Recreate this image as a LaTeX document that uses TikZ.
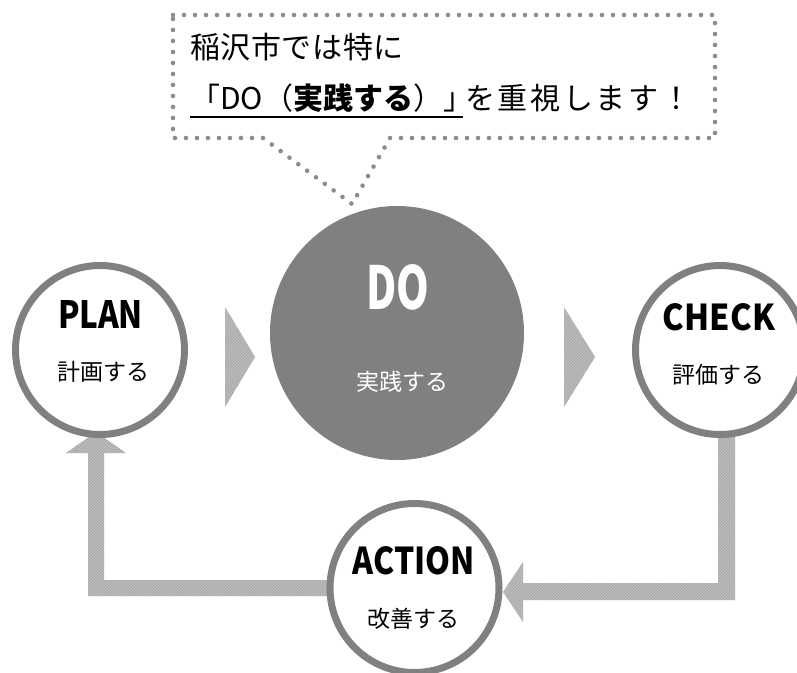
\documentclass[tikz,border=0pt]{standalone}
\usepackage{fontspec}
\usepackage{graphicx}
\setmainfont{Noto Sans CJK JP}
\usetikzlibrary{patterns}
\tikzset{
  ring/.style={circle, draw=black!50, line width=7pt, fill=white, minimum size=169pt, inner sep=0pt},
  hatch/.style={fill=black!33, postaction={pattern=north east lines, pattern color=black!22}},
  dotline/.style={draw=black!45, line width=4.6pt, line cap=round, dash pattern=on 0pt off 11pt},
  sublabel/.style={font=\fontsize{23}{27}\selectfont, inner sep=0pt},
  biglabel/.style={inner sep=0pt},
  calltext/.style={font=\fontsize{30}{34}\selectfont, inner sep=0pt, anchor=west},
}
\begin{document}
\begin{tikzpicture}[x=1pt,y=-1pt]
\useasboundingbox (0,0) rectangle (797,672);

% forward arrows
\coordinate (t1) at (225,357);
\coordinate (t2) at (564,357);
\fill[hatch] (t1) ++(0,-50) -- ++(30,50) -- ++(-30,50) -- cycle;
\fill[hatch] (t2) ++(0,-50) -- ++(31,50) -- ++(-31,50) -- cycle;

% loop CHECK -> ACTION
\fill[hatch] (718,425) -- (735,425) -- (735,600) -- (523,600) -- (523,622) -- (503,592) -- (523,562) -- (523,583) -- (718,583) -- cycle;
% loop ACTION -> PLAN
\fill[hatch] (340,580) -- (340,596) -- (88,596) -- (88,453) -- (66,453) -- (96,432) -- (126,453) -- (104,453) -- (104,580) -- cycle;

% circles
\node[ring] (plan) at (100,350) {};
\node[ring] (check) at (720,350) {};
\node[ring] (action) at (414.5,588) {};
\node[circle, fill=black!50, minimum size=254pt, inner sep=0pt] (do) at (397,333) {};

% labels
\node[biglabel] (planL) at (100.5,314) {\resizebox{85pt}{28pt}{\bfseries PLAN}};
\node[sublabel] (planS) at (103,372) {計画する};
\node[biglabel, text=white] (doL) at (398,287) {\resizebox{63pt}{45pt}{\bfseries DO}};
\node[sublabel, text=white] (doS) at (402,382) {実践する};
\node[biglabel] (checkL) at (719,317) {\resizebox{112pt}{27pt}{\bfseries CHECK}};
\node[sublabel] (checkS) at (718,375) {評価する};
\node[biglabel] (actionL) at (414,561) {\resizebox{122pt}{28pt}{\bfseries ACTION}};
\node[sublabel] (actionS) at (413,619) {改善する};

% callout
\path[dotline] (173,15) -- (715,15) -- (715,138) -- (390,138) -- (352,204) -- (263,138) -- (173,138) -- cycle;
\node[calltext] (c1) at (190,47) {\addfontfeatures{LetterSpace=2}稲沢市では特に};
\node[calltext] (c2) at (190,98) {「DO（{\bfseries 実践する}）」};
\node[calltext] (c3) at (465,98) {\addfontfeatures{LetterSpace=9}を重視します！};
\draw[line width=2.5pt] (190,117) -- (463,117);
\end{tikzpicture}
\end{document}
